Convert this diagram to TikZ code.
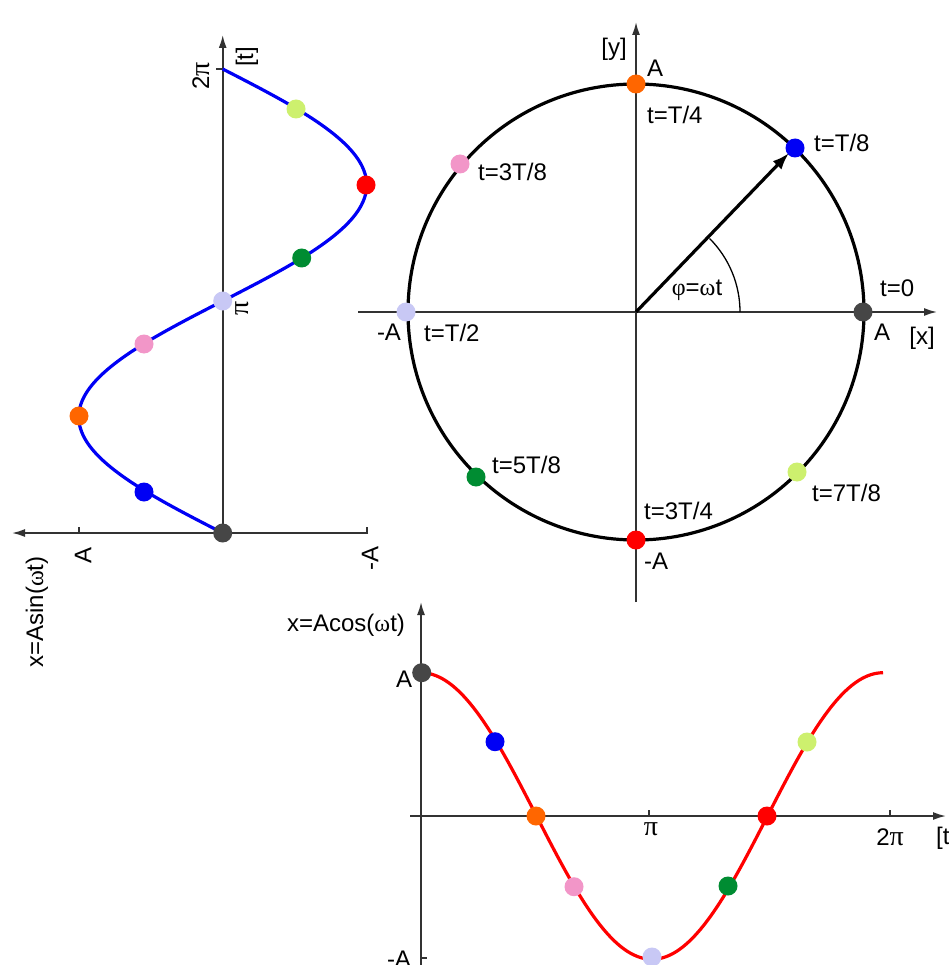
\documentclass[tikz,border=0pt]{standalone}
\usepackage{fontspec}
\setmainfont{Liberation Sans}
\newfontfamily\grk{Liberation Serif}
\newcommand{\mypi}{{\grk\fontsize{28}{30}\selectfont π}}
\usetikzlibrary{arrows.meta}
\definecolor{cDark}{RGB}{70,70,70}
\definecolor{cBlue}{RGB}{0,0,245}
\definecolor{cOrange}{RGB}{255,102,0}
\definecolor{cPink}{RGB}{242,150,200}
\definecolor{cLav}{RGB}{200,200,245}
\definecolor{cGreen}{RGB}{0,140,50}
\definecolor{cRed}{RGB}{255,0,0}
\definecolor{cYG}{RGB}{205,240,110}
\definecolor{axisgray}{RGB}{50,50,50}
\begin{document}
\begin{tikzpicture}[x=1pt,y=-1pt,
  every node/.style={font=\fontsize{24}{27}\selectfont, inner sep=0pt},
  axis/.style={draw=axisgray, line width=1.7pt},
  arr/.style={-{Latex[length=13pt,width=8pt]}},
  dot/.style={circle, inner sep=0pt, minimum size=19pt, fill=#1},
  lbl/.style={anchor=west},
  tickmark/.style={draw=axisgray, line width=1.4pt},
  rot/.style={rotate=90}]
\useasboundingbox (0,0) rectangle (948,965);
\clip (0,0) rectangle (948,965);
\fill[white] (0,0) rectangle (948,965);

% ---------------- circle plot ----------------
\coordinate (O) at (636,312);
\coordinate (xL) at (358,312);
\coordinate (xR) at (937,312);
\coordinate (yB) at (636,602);
\coordinate (yT) at (636,22);
\draw[axis,arr] (xL) -- (xR);
\draw[axis,arr] (yB) -- (yT);
\draw[black, line width=3.2pt] (O) circle[radius=228];
\draw[black, line width=1.3pt] (O) ++(104,0) arc[start angle=0, end angle=-45, radius=104];

\node[dot=cDark]   (c0) at (863,312) {};
\node[dot=cBlue]   (c1) at (795,148) {};
\node[dot=cOrange] (c2) at (636,84) {};
\node[dot=cPink]   (c3) at (460,164) {};
\node[dot=cLav]    (c4) at (406,312) {};
\node[dot=cGreen]  (c5) at (476,477) {};
\node[dot=cRed]    (c6) at (636,540) {};
\node[dot=cYG]     (c7) at (797,472) {};

\coordinate (vt) at (789,153);
\draw[line width=3.2pt, -{Latex[length=17pt,width=12pt]}] (O) -- (vt);

\node (lA1) at (655,68) {A};
\node (ly) at (614,49) {[y]};
\node[lbl] (l2) at (647,115) {t=T/4};
\node[lbl] (l1) at (814,143) {t=T/8};
\node[lbl] (l3) at (478,172) {t=3T/8};
\node[lbl] (l0) at (880,288) {t=0};
\node (lA0) at (882,332) {A};
\node (lx) at (922,338) {[x]};
\node (lA4) at (389,332) {-A};
\node[lbl] (l4) at (424,333) {t=T/2};
\node[lbl] (l5) at (492,465) {t=5T/8};
\node[lbl] (l7) at (812,493) {t=7T/8};
\node[lbl] (l6) at (644,511) {t=3T/4};
\node (lA6) at (656,561) {-A};
\node (phi) at (697,290) {{\grk φ}={\grk ω}t};

% ---------------- sine plot (left) ----------------
\coordinate (sO) at (222.7,533);
\coordinate (sT) at (222.7,35);
\coordinate (sR) at (368,533);
\coordinate (sL) at (12,533);
\draw[axis,arr] (sO) -- (sT);
\draw[axis,arr] (sR) -- (sL);
\draw[tickmark] (79,533) -- (79,527);
\draw[tickmark] (367,533) -- (367,527);
\draw[tickmark] (216,69) -- (223,69);
\draw[cBlue, line width=3.2pt] plot[domain=0:360, samples=120, smooth] ({222.7-144*sin(\x)},{533-1.288889*\x});

\node[dot=cDark]   (s0) at (222.7,533) {};
\node[dot=cBlue]   (s1) at (144,492) {};
\node[dot=cOrange] (s2) at (79,416) {};
\node[dot=cPink]   (s3) at (144,344) {};
\node[dot=cLav]    (s4) at (222.7,301) {};
\node[dot=cGreen]  (s5) at (301.7,258) {};
\node[dot=cRed]    (s6) at (366,185) {};
\node[dot=cYG]     (s7) at (296,109) {};

\node[rot] (s2pi) at (201,76) {2\mypi};
\node[rot] (st) at (247,57) {[t]};
\node[rot] (spi) at (242,308) {\mypi};
\node[rot] (sA) at (83,555) {A};
\node[rot] (smA) at (370,558) {-A};
\node[rot] (sfun) at (37,612) {x=Asin({\grk ω}t)};

% ---------------- cosine plot (bottom) ----------------
\coordinate (cO) at (421,816);
\coordinate (cB) at (421,968);
\coordinate (cT) at (421,602);
\coordinate (cL) at (410,816);
\coordinate (cR) at (946,816);
\draw[axis,arr] (cB) -- (cT);
\draw[axis,arr] (cL) -- (cR);
\draw[tickmark] (649,816) -- (649,810);
\draw[tickmark] (890,816) -- (890,810);
\draw[tickmark] (421,958) -- (427,958);
\draw[cRed, line width=3.2pt] plot[domain=0:360, samples=120, smooth] ({421+1.283333*\x},{816-143.3*cos(\x)});

\node[dot=cDark]   (k0) at (421.7,672.7) {};
\node[dot=cBlue]   (k1) at (495,741.7) {};
\node[dot=cOrange] (k2) at (536,816) {};
\node[dot=cPink]   (k3) at (574,886.7) {};
\node[dot=cLav]    (k4) at (652,957) {};
\node[dot=cGreen]  (k5) at (728,886) {};
\node[dot=cRed]    (k6) at (767,816) {};
\node[dot=cYG]     (k7) at (807,742) {};

\node (kA) at (404,679) {A};
\node (kmA) at (399,959) {-A};
\node (kpi) at (651,829) {\mypi};
\node (k2pi) at (890,837) {2\mypi};
\node[lbl] (kt) at (936,838) {[t]};
\node (kfun) at (346,625) {x=Acos({\grk ω}t)};
\end{tikzpicture}
\end{document}
